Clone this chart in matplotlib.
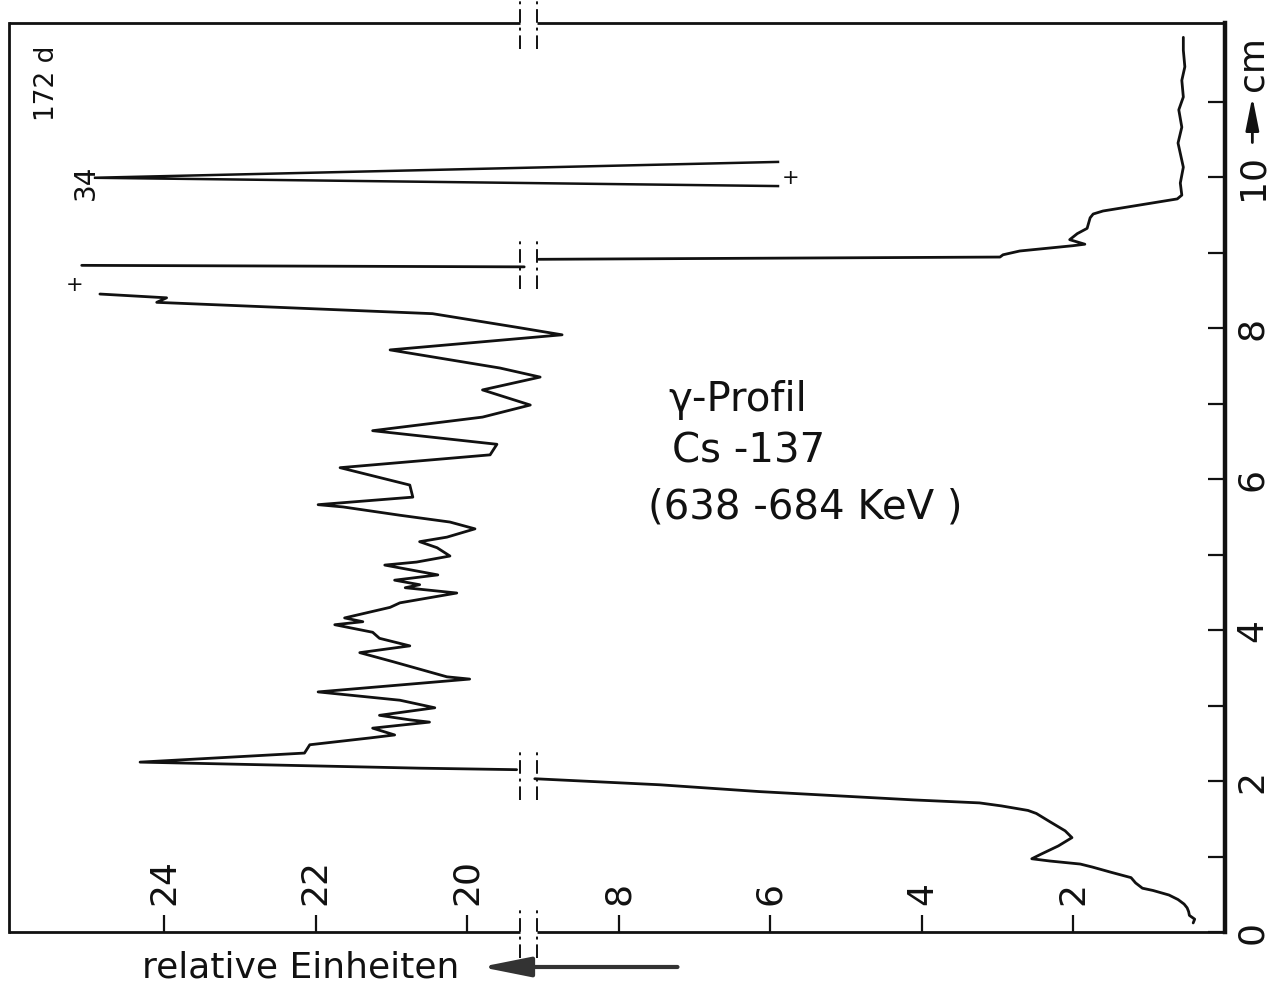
import numpy as np
import matplotlib
matplotlib.use("Agg")
import matplotlib.pyplot as plt

plt.rcParams["font.family"] = ["DejaVu Sans"]

# Gamma scan along the rod: position (cm) and count rate (relative units).
# Readings >= 14 belong to the upper recorder range (20..26), the rest to the
# lower range (0..10).  NaN marks a pen lift where the trace ran off scale.
profile_cm = [
    0.12, 0.17, 0.22, 0.27, 0.32, 0.37, 0.43, 0.49, 0.55, 0.58, 0.65, 0.72,
    0.79, 0.86, 0.90, 0.94, 0.97, 1.03, 1.14, 1.25, 1.34, 1.46, 1.57, 1.61,
    1.67, 1.71, 1.75, 1.86, 1.95, 2.03,
    2.15, 2.17, 2.25, 2.37, 2.48, 2.57, 2.61, 2.70, 2.78, 2.81, 2.87, 2.97,
    3.07, 3.18, 3.35, 3.38, 3.58, 3.70, 3.79, 3.89, 3.97, 4.07, 4.11, 4.16,
    4.30, 4.36, 4.49, 4.56, 4.60, 4.66, 4.73, 4.86, 4.90, 4.98, 5.09, 5.17,
    5.23, 5.34, 5.43, 5.52, 5.63, 5.66, 5.76, 5.92, 6.15, 6.32, 6.46, 6.64,
    6.82, 6.98, 7.18, 7.35, 7.47, 7.71, 7.91, 8.01, 8.19, 8.34, 8.40, 8.45,
    np.nan,
    8.83, 8.81,
    8.91, 8.94, 8.97, 9.02, 9.09, 9.11, 9.17, 9.25, 9.32, 9.46, 9.51, 9.55,
    9.71, 9.76, 9.92, 10.13, 10.45, 10.66, 10.89, 11.06, 11.28, 11.46, 11.68,
    11.85,
]
profile_val = [
    0.42, 0.40, 0.47, 0.48, 0.50, 0.54, 0.62, 0.74, 0.95, 1.09, 1.18, 1.24,
    1.50, 1.75, 1.91, 2.31, 2.55, 2.43, 2.20, 2.02, 2.11, 2.31, 2.49, 2.60,
    2.95, 3.24, 4.12, 6.15, 7.46, 9.11,
    19.35, 20.63, 24.32, 22.15, 22.08, 21.29, 20.96, 21.25, 20.50, 20.76,
    21.16, 20.43, 20.89, 21.97, 19.97, 20.27, 20.98, 21.42, 20.76, 21.16,
    21.25, 21.75, 21.38, 21.62, 21.02, 20.89, 20.14, 20.82, 20.63, 20.96,
    20.39, 21.09, 20.67, 20.23, 20.40, 20.63, 20.27, 19.90, 20.23, 20.89,
    21.64, 21.97, 20.72, 20.76, 21.68, 19.70, 19.61, 21.25, 19.80, 19.17,
    19.80, 19.04, 19.57, 21.02, 18.75, 19.35, 20.46, 24.10, 23.97, 24.85,
    np.nan,
    25.09, 19.25,
    9.06, 2.97, 2.93, 2.71, 2.01, 1.85, 2.05, 1.95, 1.82, 1.78, 1.74, 1.61,
    0.63, 0.57, 0.59, 0.55, 0.62, 0.57, 0.61, 0.55, 0.57, 0.53, 0.55, 0.55,
]

# Narrow peak near 10 cm, far beyond the recorder's travel
spike_cm = [9.88, 9.99, 10.20]
spike_val = [5.9, 34.0, 5.9]

# Off-scale markers
plus_cm = [8.57, 9.99]
plus_val = [25.18, 5.74]

lower_ticks = [2, 4, 6, 8]
upper_ticks = [20, 22, 24]
cm_ticks = list(range(0, 12))
cm_labels = ["0", "", "2", "", "4", "", "6", "", "8", "", "10", ""]

title_lines = ["\u03b3-Profil", "Cs -137", "(638 -684 KeV )"]
time_label = "172 d"
unit_label = "relative Einheiten"

RANGE_SPLIT = 14.0    # readings above this sit on the upper range
RANGE_OFFSET = 10.0   # upper range 20..26 shares the paper with 10..16
BREAK_U = (9.08, 9.30)  # gap on the paper between the two ranges
PEN_LIMIT = 14.93     # mechanical stop of the recorder pen
U_MAX = 16.05
CM_MAX = 12.04
INK = "#111111"


def to_paper(v):
    v = np.asarray(v, float)
    return np.where(v >= RANGE_SPLIT, v - RANGE_OFFSET, v)


fig = plt.figure(figsize=(12.71, 9.88), dpi=100)
ax = fig.add_axes([9 / 1271, 1 - 932 / 988, 1216 / 1271, 909 / 988])
ax.set_xlim(U_MAX, 0)
ax.set_ylim(0, CM_MAX)

# ---- profile trace, split at pen lifts and range changes ----
cm = np.asarray(profile_cm, float)
val = np.asarray(profile_val, float)
u = to_paper(val)
segments, cur, prev = [], [], None
switch_cm = []
for c, uu, v in zip(cm, u, val):
    if np.isnan(v):
        if cur:
            segments.append(cur)
        cur, prev = [], None
        continue
    up = v >= RANGE_SPLIT
    if prev is not None and up != prev:
        segments.append(cur)
        switch_cm.append(0.5 * (cur[-1][1] + c))
        cur = []
    cur.append((uu, c))
    prev = up
if cur:
    segments.append(cur)

for seg in segments:
    xs, ys = zip(*seg)
    ax.plot(xs, ys, color=INK, lw=2.0, solid_joinstyle="round",
            solid_capstyle="round", zorder=3)

# ---- spike: the pen saturates at its stop ----
su = np.minimum(to_paper(spike_val), PEN_LIMIT)
ax.plot(su, spike_cm, color=INK, lw=1.8, solid_joinstyle="miter", zorder=3)
peak_u = su[1]
ax.text(peak_u + 0.11, spike_cm[1] - 0.06, f"{spike_val[1]:g}", rotation=90,
        ha="center", va="center", fontsize=20, color=INK)

for c, v in zip(plus_cm, plus_val):
    ax.text(to_paper([v])[0], c, "+", ha="center", va="center",
            fontsize=15, color=INK)

# ---- frame with interrupted top/bottom edges ----
for side in ("top", "bottom"):
    ax.spines[side].set_visible(False)
ax.spines["left"].set_linewidth(2.0)
ax.spines["right"].set_linewidth(3.2)
for sp in ax.spines.values():
    sp.set_color(INK)
xt = ax.get_xaxis_transform()
for yy in (0, 1):
    ax.plot([0, BREAK_U[0]], [yy, yy], transform=xt, color=INK, lw=2.0,
            clip_on=False, solid_capstyle="butt")
    ax.plot([BREAK_U[1], U_MAX], [yy, yy], transform=xt, color=INK, lw=2.0,
            clip_on=False, solid_capstyle="butt")

# break symbols: two dash-dot strokes at each crossing of the range gap
half = 0.34
for yc in [0.0, CM_MAX] + switch_cm:
    for bu in BREAK_U:
        ax.plot([bu, bu], [yc - half, yc + half], color=INK, lw=1.4,
                linestyle=(0, (7, 2.5, 1.5, 2.5)), clip_on=False, zorder=4)

# ---- value axis (bottom, inside) ----
tick_u = list(to_paper(lower_ticks)) + list(to_paper(upper_ticks))
tick_txt = [str(t) for t in lower_ticks] + [str(t) for t in upper_ticks]
ax.set_xticks(tick_u)
ax.tick_params(axis="x", direction="in", length=12, width=1.6, color=INK,
               labelbottom=False)
for tu, tt in zip(tick_u, tick_txt):
    ax.text(tu, 0.36, tt, rotation=90, ha="center", va="bottom",
            fontsize=26, color=INK)

# ---- position axis (right) ----
ax.yaxis.tick_right()
ax.set_yticks(cm_ticks)
ax.tick_params(axis="y", direction="in", length=12, width=1.6, color=INK,
               labelright=False, left=False)
yt = ax.get_yaxis_transform()
for c, lab in zip(cm_ticks, cm_labels):
    if lab:
        ax.text(1.0225, c, lab, transform=yt, rotation=90, ha="center",
                va="center", fontsize=26, color=INK, clip_on=False)
ax.annotate("", xy=(1.0225, 11.1), xytext=(1.0225, 10.42),
            xycoords=yt, textcoords=yt,
            arrowprops=dict(arrowstyle="-|>,head_length=1.0,head_width=0.2",
                            color=INK, lw=2.0, mutation_scale=20))
ax.text(1.0225, 11.5, "cm", transform=yt, rotation=90, ha="center",
        va="center", fontsize=26, color=INK, clip_on=False)

# ---- unit label below the frame ----
ax.text(10.1, -0.0506, unit_label, transform=xt, ha="right", va="baseline",
        fontsize=26, color=INK, clip_on=False)
ax.annotate("", xy=(9.86, -0.0385), xytext=(7.19, -0.0385),
            xycoords=xt, textcoords=xt,
            arrowprops=dict(arrowstyle="-|>,head_length=1.5,head_width=0.3",
                            color="#333333", lw=3.0, mutation_scale=20))

# ---- annotations ----
ax.text(15.55, 11.24, time_label, rotation=90, ha="center", va="center",
        fontsize=19, color=INK)
for (tx, ty), line in zip([(7.35, 7.05), (7.30, 6.36), (7.62, 5.62)],
                          title_lines):
    ax.text(tx, ty, line, ha="left", va="center", fontsize=29, color=INK)

fig.savefig("out.png", dpi=100, facecolor="white")
